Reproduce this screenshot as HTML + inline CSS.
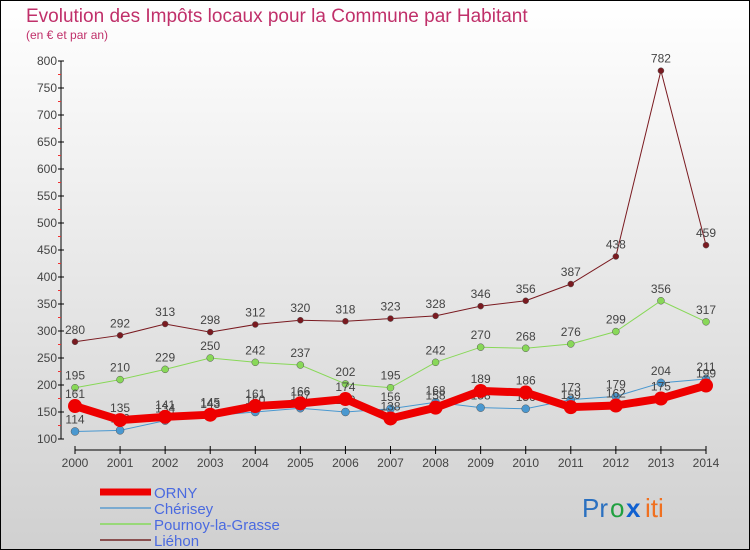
<!DOCTYPE html>
<html><head><meta charset="utf-8"><style>
html,body{margin:0;padding:0}
body{width:750px;height:550px;overflow:hidden;font-family:"Liberation Sans",sans-serif}
svg{display:block}
</style></head><body>
<svg id="chart" width="750" height="550" xmlns="http://www.w3.org/2000/svg">
<defs><linearGradient id="bg" x1="0" y1="0" x2="0" y2="1"><stop offset="0" stop-color="#ffffff"/><stop offset="1" stop-color="#d0d0d0"/></linearGradient></defs>
<rect x="0.5" y="0.5" width="749" height="549" fill="url(#bg)" stroke="#000"/>
<text x="26" y="22" font-size="19" fill="#c0306a">Evolution des Impôts locaux pour la Commune par Habitant</text>
<text x="26" y="39" font-size="12" fill="#c0306a">(en € et par an)</text>
<g id="axes"></g><g id="series"></g><g id="legend"></g>
<g font-size="26" font-family="'Liberation Sans',sans-serif">
<text x="582" y="517" fill="#2a70c0">Pr</text><text x="610" y="517" fill="#20a040">o</text><text x="626" y="517" fill="#1060d0" font-weight="bold">x</text><text x="645" y="517" fill="#f07020">iti</text>
</g>
</svg>
<script>
const years=["2000","2001","2002","2003","2004","2005","2006","2007","2008","2009","2010","2011","2012","2013","2014"];
const orny=[161,135,141,145,161,166,174,138,158,189,186,159,162,175,199];
const cherisey=[114,116,134,143,150,157,150,156,168,158,156,173,179,204,211];
const pournoy=[195,210,229,250,242,237,202,195,242,270,268,276,299,356,317];
const liehon=[280,292,313,298,312,320,318,323,328,346,356,387,438,782,459];
const yTicks=[100,150,200,250,300,350,400,450,500,550,600,650,700,750,800];
const NS="http://www.w3.org/2000/svg";
const X=i=>75+i*(706-75)/(years.length-1);
const Y=v=>439-(v-100)*(378/700);
function mk(t,a,p){const e=document.createElementNS(NS,t);for(const k in a)e.setAttribute(k,a[k]);p.appendChild(e);return e;}
const ax=document.getElementById('axes');
let l=mk('line',{x1:61,y1:Y(800),x2:61,y2:Y(100),stroke:'#000'},ax);


yTicks.forEach(v=>{
 mk('line',{x1:58,x2:64,y1:Y(v),y2:Y(v),stroke:'#000'},ax);
 if(v<800) mk('line',{x1:58,x2:61,y1:Y(v+25),y2:Y(v+25),stroke:'#f03030'},ax);
 const t=mk('text',{x:57,y:Y(v)+4,'font-size':12,fill:'#444','text-anchor':'end'},ax);t.textContent=v;
 
 
});
l=mk('line',{x1:75,y1:450,x2:706,y2:450,stroke:'#000'},ax);


years.forEach((y,i)=>{
 mk('line',{x1:X(i),x2:X(i),y1:446,y2:454,stroke:'#000'},ax);
 const t=mk('text',{x:X(i),y:467,'font-size':12,fill:'#444','text-anchor':'middle'},ax);t.textContent=y;
 
 
});
const sg=document.getElementById('series');
const defs=[
 {d:liehon,c:'#7a1a20',w:1,r:3,n:'liehon'},
 {d:pournoy,c:'#88d858',w:1,r:3.5,n:'pournoy'},
 {d:cherisey,c:'#4a98d0',w:1,r:4,n:'cherisey'},
 {d:orny,c:'#ee0000',w:8,r:7,n:'orny'}];
defs.forEach(s=>{
 const g=mk('g',{},sg);
 
 
 const p=mk('polyline',{points:s.d.map((v,i)=>X(i)+','+Y(v)).join(' '),fill:'none',stroke:s.c,'stroke-width':s.w},g);
 
 
 s.d.forEach((v,i)=>{
  const c=mk('circle',{cx:X(i),cy:Y(v),r:s.r,fill:s.c,stroke:s.n==='orny'?'none':'#555','stroke-width':0.5},g);
  
  
  const t=mk('text',{x:X(i),y:Y(v)-8,'font-size':12,fill:'#444','text-anchor':'middle'},g);t.textContent=v;
  
  
 });
});
const lg=document.getElementById('legend');
[['ORNY','#ee0000',7],['Chérisey','#7aaad0',2],['Pournoy-la-Grasse','#98d878',2],['Liéhon','#8a5050',2]].forEach((e,i)=>{
 const y=492+i*16;
 const g=mk('g',{},lg);
 
 
 mk('line',{x1:100,x2:151,y1:y,y2:y,stroke:e[1],'stroke-width':e[2]},g);
 const t=mk('text',{x:154,y:y+6,'font-size':15,fill:'#4a6ae0'},g);t.textContent=e[0];
});
</script>
</body></html>
